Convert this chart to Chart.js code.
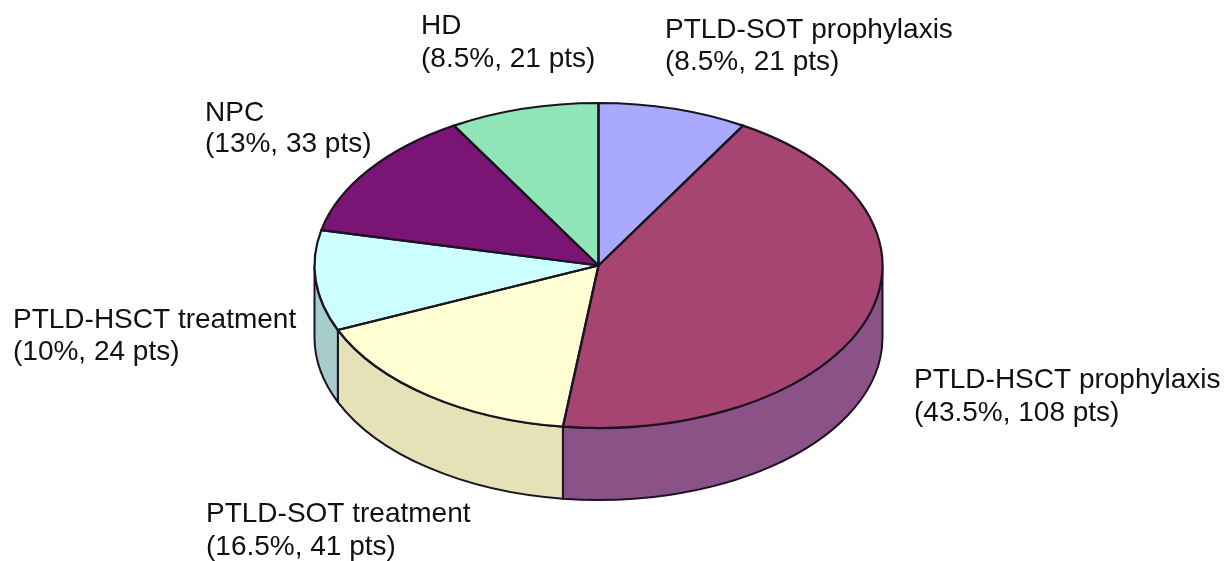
<!DOCTYPE html>
<html>
<head>
<meta charset="utf-8">
<title>Pie</title>
<style>html,body{margin:0;padding:0;background:#fff}canvas{display:block}</style>
<script src="https://cdn.jsdelivr.net/npm/chart.js@4"></script>
</head>
<body>
<canvas id="c" width="1232" height="561"></canvas>
<script>
const categories = ["PTLD-SOT prophylaxis","PTLD-HSCT prophylaxis","PTLD-SOT treatment","PTLD-HSCT treatment","NPC","HD"];
const patients = [21,108,41,24,33,21];
const percents = [8.5,43.5,16.5,10,13,8.5];
const topColors = ["#a9aaff","#a64472","#ffffd3","#ccffff","#7a1576","#8ee6b8"];
const sideColors = ["#8688cc","#8b5288","#e5e2b8","#a6cccc","#62115e","#72b893"];
const labelPos = [[665,38,70],[914,388,421],[206,522,555],[13,328,360],[205,121,152],[421,34,67]];

const CX = 598.5, CY = 265.5, RX = 284, RY = 162.5, DEPTH = 72;
const INK = "#1c1420";

function tilt(ctx, el){
  ctx.translate(CX, CY);
  ctx.scale(RX / el.outerRadius, RY / el.outerRadius);
  ctx.translate(-el.x, -el.y);
}

const pie3d = {
  id: "pie3d",
  beforeDatasetsDraw(chart){
    const ctx = chart.ctx, arcs = chart.getDatasetMeta(0).data;
    ctx.save();
    ctx.lineWidth = 2; ctx.strokeStyle = INK; ctx.lineJoin = "round";
    arcs.forEach((el, i) => {
      const a0 = Math.max(el.startAngle, 0), a1 = Math.min(el.endAngle, Math.PI);
      if (a1 <= a0) return;
      ctx.beginPath();
      ctx.ellipse(CX, CY, RX, RY, 0, a0, a1);
      ctx.ellipse(CX, CY + DEPTH, RX, RY, 0, a1, a0, true);
      ctx.closePath();
      ctx.fillStyle = sideColors[i];
      ctx.fill();
      ctx.stroke();
    });
    ctx.restore();
    ctx.save();
    tilt(ctx, arcs[0]);
  },
  afterDatasetsDraw(chart){
    const ctx = chart.ctx, arcs = chart.getDatasetMeta(0).data;
    ctx.restore();
    ctx.save();
    ctx.lineWidth = 2.2; ctx.strokeStyle = INK; ctx.lineJoin = "round";
    arcs.forEach(el => {
      ctx.beginPath();
      ctx.moveTo(CX, CY);
      ctx.ellipse(CX, CY, RX, RY, 0, el.startAngle, el.endAngle);
      ctx.closePath();
      ctx.stroke();
    });
    ctx.fillStyle = "#111";
    ctx.font = '28px "Liberation Sans", Arial, sans-serif';
    ctx.textBaseline = "alphabetic";
    categories.forEach((name, i) => {
      const [x, y1, y2] = labelPos[i];
      ctx.fillText(name, x, y1);
      ctx.fillText("(" + percents[i] + "%, " + patients[i] + " pts)", x, y2);
    });
    ctx.restore();
  }
};

new Chart(document.getElementById("c"), {
  type: "pie",
  data: { labels: categories, datasets: [{ data: percents, backgroundColor: topColors, borderWidth: 0 }] },
  options: {
    responsive: false,
    animation: false,
    events: [],
    layout: { padding: 0 },
    plugins: { legend: { display: false }, tooltip: { enabled: false } }
  },
  plugins: [pie3d]
});
</script>
</body>
</html>
